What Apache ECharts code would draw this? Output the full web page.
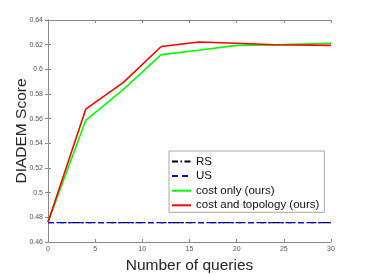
<!DOCTYPE html>
<html><head><meta charset="utf-8">
<script src="https://cdn.jsdelivr.net/npm/echarts@6/dist/echarts.min.js"></script>
<style>html,body{margin:0;padding:0;background:#fff}#c{width:366px;height:274px}</style>
</head><body><div id="c"></div>
<script>
const queries = [0, 4, 8, 12, 16, 20, 24, 30];
const rsScore = [0.4757, 0.4757, 0.4757, 0.4757, 0.4757, 0.4757, 0.4757, 0.4757];
const usScore = [0.4757, 0.4757, 0.4757, 0.4757, 0.4757, 0.4757, 0.4757, 0.4757];
const costOnly = [0.476, 0.5587, 0.5838, 0.6119, 0.6155, 0.6194, 0.6198, 0.6212];
const costTopology = [0.476, 0.5677, 0.5894, 0.6185, 0.6222, 0.6212, 0.6199, 0.6194];
const seriesNames = ['RS', 'US', 'cost only (ours)', 'cost and topology (ours)'];
const xTicks = [0, 5, 10, 15, 20, 25, 30];
const yTickLabels = ['0.46','0.48','0.5','0.52','0.54','0.56','0.58','0.6','0.62','0.64'];

const pairs = arr => queries.map((q, i) => [q, arr[i]]);
const axisGray = '#8a8a8a';
const font = '"Liberation Sans", Arial, sans-serif';

const chart = echarts.init(document.getElementById('c'), null, {renderer: 'canvas'});
const boxAxis = {
  axisLine: {show: true, lineStyle: {color: axisGray, width: 1}},
  axisTick: {show: true, inside: true, length: 3, lineStyle: {color: axisGray}},
  splitLine: {show: false}
};
chart.setOption({
  animation: false,
  backgroundColor: '#fff',
  grid: {left: 48, right: 35, top: 20, bottom: 32, containLabel: false, outerBoundsMode: 'none'},
  xAxis: [
    Object.assign({type: 'value', min: 0, max: 30, interval: 5, position: 'bottom',
      name: 'Number of queries', nameLocation: 'middle', nameGap: 14,
      nameTextStyle: {fontSize: 15.5, color: '#262626', fontFamily: font},
      axisLabel: {fontSize: 7, color: '#555', margin: 4, fontFamily: font,
        formatter: v => String(xTicks[xTicks.indexOf(v)])}}, boxAxis),
    Object.assign({type: 'value', min: 0, max: 30, interval: 5, position: 'top',
      axisLabel: {show: false}}, boxAxis)
  ],
  yAxis: [
    Object.assign({type: 'value', min: 0.46, max: 0.64, interval: 0.02, position: 'left',
      name: 'DIADEM Score', nameLocation: 'middle', nameGap: 18, nameMoveOverlap: false,
      nameTextStyle: {fontSize: 15.5, color: '#262626', fontFamily: font},
      axisLabel: {fontSize: 7, color: '#555', margin: 5, fontFamily: font,
        formatter: v => yTickLabels[Math.round((v - 0.46) / 0.02)]}}, boxAxis),
    Object.assign({type: 'value', min: 0.46, max: 0.64, interval: 0.02, position: 'right',
      axisLabel: {show: false}}, boxAxis)
  ],
  legend: {
    left: 169, top: 151, orient: 'vertical',
    padding: [4.5, 5, 1, 2], itemGap: 2.6, itemWidth: 19, itemHeight: 12,
    backgroundColor: '#fff', borderColor: '#a8a8a8', borderWidth: 1,
    itemStyle: {opacity: 0},
    textStyle: {fontSize: 11.5, color: '#111', fontFamily: font},
    data: seriesNames
  },
  series: [
    {name: seriesNames[0], type: 'line', data: pairs(rsScore), symbol: 'none',
      lineStyle: {color: '#000', width: 1.3, type: [6, 2.5, 1.5, 2.5]}, itemStyle: {color: '#000'}, z: 2},
    {name: seriesNames[1], type: 'line', data: pairs(usScore), symbol: 'none',
      lineStyle: {color: '#0000ff', width: 1.3, type: [6, 4]}, itemStyle: {color: '#0000ff'}, z: 3},
    {name: seriesNames[2], type: 'line', data: pairs(costOnly), symbol: 'none',
      lineStyle: {color: '#00ff00', width: 1.6}, itemStyle: {color: '#00ff00'}, z: 4},
    {name: seriesNames[3], type: 'line', data: pairs(costTopology), symbol: 'none',
      lineStyle: {color: '#ff0000', width: 1.6}, itemStyle: {color: '#ff0000'}, z: 5}
  ]
});
</script></body></html>
